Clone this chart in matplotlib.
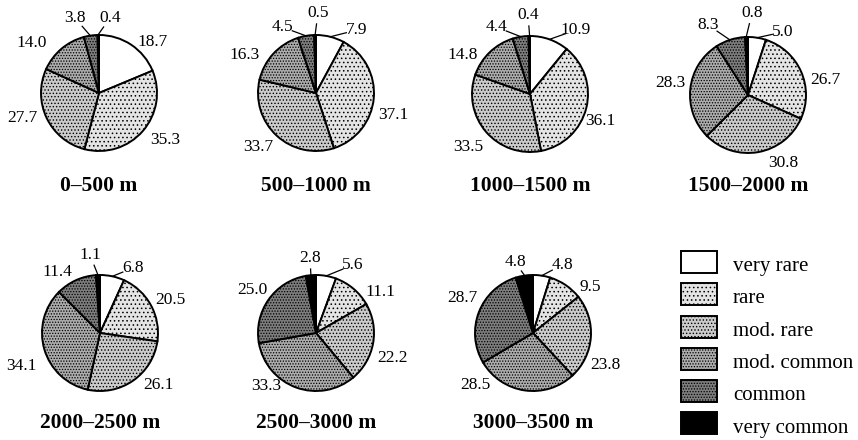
"""Abundance classes of species along an altitudinal gradient, drawn as pie charts."""

import matplotlib.pyplot as plt
import numpy as np
from matplotlib.patches import Rectangle

CLASSES = ["very rare", "rare", "mod. rare", "mod. common", "common", "very common"]
BANDS = ["0–500 m", "500–1000 m", "1000–1500 m", "1500–2000 m",
         "2000–2500 m", "2500–3000 m", "3000–3500 m"]

# percentage of species in each class, one list per altitude band
SHARE_0_500 = [18.7, 35.3, 27.7, 14.0, 3.8, 0.4]
SHARE_500_1000 = [7.9, 37.1, 33.7, 16.3, 4.5, 0.5]
SHARE_1000_1500 = [10.9, 36.1, 33.5, 14.8, 4.4, 0.4]
SHARE_1500_2000 = [5.0, 26.7, 30.8, 28.3, 8.3, 0.8]
SHARE_2000_2500 = [6.8, 20.5, 26.1, 34.1, 11.4, 1.1]
SHARE_2500_3000 = [5.6, 11.1, 22.2, 33.3, 25.0, 2.8]
SHARE_3000_3500 = [4.8, 9.5, 23.8, 28.5, 28.7, 4.8]

SHARES = [SHARE_0_500, SHARE_500_1000, SHARE_1000_1500, SHARE_1500_2000,
          SHARE_2000_2500, SHARE_2500_3000, SHARE_3000_3500]

FILLS = ["#ffffff", "#e4e4e4", "#cbcbcb", "#acacac", "#7d7d7d", "#000000"]
HATCHES = ["", "....", ".....", "......", "......", ""]

W, H = 858, 440
RADIUS = 58
# pie centres in pixels from the top-left corner
CENTERS = [(99, 93), (316, 93), (530, 94), (748, 95),
           (100, 333), (316, 333), (533, 333)]
TITLE_Y = [186, 186, 186, 186, 423, 423, 423]

# hand-placed label offsets (pixels right / up from the pie centre)
LABEL_OFFSETS = [
    [(54, 51), (66, -47), (-77, -25), (-67, 50), (-24, 75), (11, 75)],
    [(41, 63), (77, -22), (-58, -54), (-71, 38), (-34, 66), (2, 80)],
    [(46, 64), (70, -27), (-62, -53), (-67, 39), (-34, 67), (-2, 79)],
    [(35, 63), (77, 15), (35, -68), (-78, 12), (-40, 70), (4, 82)],
    [(33, 65), (70, 33), (58, -52), (-79, -33), (-43, 61), (-10, 78)],
    [(37, 68), (64, 41), (77, -25), (-50, -53), (-64, 43), (-6, 75)],
    [(29, 68), (57, 46), (72, -32), (-58, -52), (-71, 35), (-18, 71)],
]

FONT = "Liberation Serif"


def draw_pie(ax, values, center, offsets, title, title_y):
    cx, cy = center[0], H - center[1]
    ax.pie(values, center=(cx, cy), radius=RADIUS, startangle=90,
           counterclock=False, colors=FILLS, hatch=HATCHES,
           wedgeprops=dict(edgecolor="black", linewidth=1.4))

    values = np.asarray(values)
    mids = 90 - (np.cumsum(values) - values / 2) * 3.6
    for v, mid, (dx, dy) in zip(values, mids, offsets):
        tx, ty = cx + dx, cy + dy
        off_top = abs(((mid - 90) + 180) % 360 - 180)
        if v < 11 and off_top < 30:
            # short leader from the rim of a narrow wedge towards its label
            m = np.deg2rad(mid)
            ex, ey = cx + RADIUS * np.cos(m), cy + RADIUS * np.sin(m)
            vx, vy = tx - ex, ty - ey
            d = np.hypot(vx, vy)
            stop = max(d - 11, 4)
            ax.plot([ex, ex + vx / d * stop], [ey, ey + vy / d * stop],
                    color="black", linewidth=0.9)
        ax.text(tx, ty, f"{v:.1f}", ha="center", va="center", fontsize=12.5,
                family=FONT)
    ax.text(cx, H - title_y, title, ha="center", va="center", fontsize=15.5,
            fontweight="bold", family=FONT)


def main():
    plt.rcParams["hatch.linewidth"] = 0.6
    fig = plt.figure(figsize=(W / 100, H / 100), dpi=100, facecolor="white")
    ax = fig.add_axes([0, 0, 1, 1])

    for values, center, offsets, title, ty in zip(SHARES, CENTERS, LABEL_OFFSETS,
                                                  BANDS, TITLE_Y):
        draw_pie(ax, values, center, offsets, title, ty)

    # legend boxes on the lower right
    for i, (name, fill, hatch) in enumerate(zip(CLASSES, FILLS, HATCHES)):
        y = H - (262 + i * 32.3)
        ax.add_patch(Rectangle((681, y - 11), 36, 22, facecolor=fill,
                               hatch=hatch, edgecolor="black", linewidth=1.4))
        ax.text(733, y - 9, name, ha="left", va="baseline", fontsize=15,
                family=FONT)

    ax.set_xlim(0, W)
    ax.set_ylim(0, H)
    ax.set_aspect("equal")
    ax.axis("off")
    fig.savefig("out.png", dpi=100, facecolor="white")
    plt.close(fig)


if __name__ == "__main__":
    main()
